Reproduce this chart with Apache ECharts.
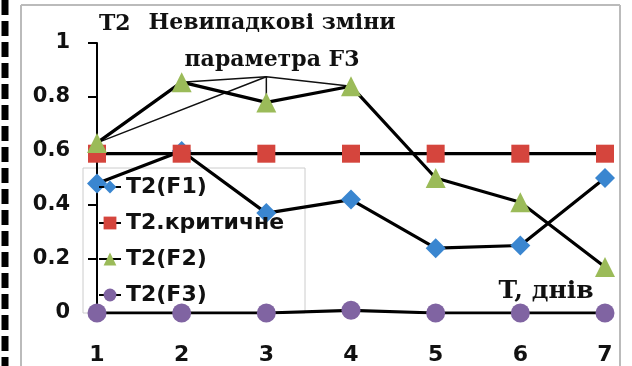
<!DOCTYPE html>
<html><head><meta charset="utf-8">
<script src="https://cdn.jsdelivr.net/npm/echarts@6/dist/echarts.min.js"></script>
<style>html,body{margin:0;padding:0;background:#fff}#c{width:632px;height:366px}</style>
</head><body><div id="c"></div>
<script>
const days = [1, 2, 3, 4, 5, 6, 7];
const yTicks = [0, 0.2, 0.4, 0.6, 0.8, 1];
const t2F1 = [0.48, 0.60, 0.37, 0.42, 0.24, 0.25, 0.50];
const t2Crit = [0.59, 0.59, 0.59, 0.59, 0.59, 0.59, 0.59];
const t2F2 = [0.63, 0.855, 0.78, 0.84, 0.50, 0.41, 0.17];
const t2F3 = [0, 0, 0, 0.01, 0, 0, 0];
// stray hand-drawn annotation strokes in the source picture
const strokeA = [[1, 0.63], [3, 0.875], [4, 0.84]];
const strokeB = [[2, 0.855], [3, 0.875], [3, 0.78]];
const names = ['T2(F1)', 'T2.критичне', 'T2(F2)', 'T2(F3)'];
const colors = ['#3a86d0', '#d5453d', '#9bbb59', '#8064a2'];
const symbols = ['diamond', 'rect', 'triangle', 'circle'];
const sizes = [20, 18, 20, 19];
const values = [t2F1, t2Crit, t2F2, t2F3];

const SANS = 'DejaVu Sans';
const SERIF = 'DejaVu Serif';

const chart = echarts.init(document.getElementById('c'), null, {renderer: 'canvas'});
const series = [];
[strokeA, strokeB].forEach((d, i) => series.push({
  name: 'stroke' + i, type: 'line', data: d, symbol: 'none', silent: true,
  lineStyle: {color: '#111', width: 1.5}, z: 1
}));
values.forEach((v, i) => series.push({
  name: names[i], type: 'line',
  data: v.map((y, k) => [days[k], y]),
  symbol: symbols[i], symbolSize: sizes[i],
  itemStyle: {color: colors[i]},
  lineStyle: {color: '#000', width: 3.2},
  z: 2 + i
}));

chart.setOption({
  animation: false,
  title: {
    text: 'Невипадкові зміни\nпараметра F3',
    left: 272, top: 5, padding: 0, textAlign: 'center',
    textStyle: {fontFamily: SERIF, fontWeight: 'bold', fontSize: 22, lineHeight: 37, color: '#111'}
  },
  grid: {left: 97, right: 27, top: 43, bottom: 53},
  legend: {
    data: names, orient: 'vertical', left: 98, top: 176, padding: 0,
    itemWidth: 22, itemHeight: 16, itemGap: 14,
    textStyle: {fontFamily: SANS, fontWeight: 'bold', fontSize: 22, lineHeight: 22, color: '#111'}
  },
  xAxis: {
    type: 'value', min: 1, max: 7, interval: 1,
    axisLine: {show: false}, axisTick: {show: false}, splitLine: {show: false},
    axisLabel: {margin: 31, fontFamily: SANS, fontWeight: 'bold', fontSize: 22, color: '#111',
      customValues: days}
  },
  yAxis: {
    type: 'value', min: 0, max: 1, interval: 0.2,
    name: 'T2', nameLocation: 'end', nameGap: 8,
    nameTextStyle: {fontFamily: SERIF, fontWeight: 'bold', fontSize: 22, color: '#111', align: 'left', padding: [0, 0, 0, 2]},
    axisLine: {show: true, lineStyle: {color: '#000', width: 2}},
    axisTick: {show: true, length: 9, lineStyle: {color: '#000', width: 2}},
    splitLine: {show: false},
    axisLabel: {margin: 27, fontFamily: SANS, fontWeight: 'bold', fontSize: 21, color: '#111',
      customValues: yTicks}
  },
  graphic: [
    {type: 'line', shape: {x1: 5, y1: 0, x2: 5, y2: 366}, style: {stroke: '#000', lineWidth: 7, lineDash: [15, 6]}},
    {type: 'line', shape: {x1: 21, y1: 5, x2: 620, y2: 5}, style: {stroke: '#bbb', lineWidth: 2}},
    {type: 'line', shape: {x1: 21, y1: 5, x2: 21, y2: 366}, style: {stroke: '#bbb', lineWidth: 2}},
    {type: 'line', shape: {x1: 620, y1: 5, x2: 620, y2: 366}, style: {stroke: '#bbb', lineWidth: 2}},
    {type: 'rect', shape: {x: 83, y: 168, width: 222, height: 145}, style: {fill: 'none', stroke: '#ccc', lineWidth: 1}, z: 0},
    {type: 'text', x: 546, y: 291, style: {text: 'T, днів', fontFamily: SERIF, fontWeight: 'bold', fontSize: 25, fill: '#111', textAlign: 'center', textVerticalAlign: 'middle'}}
  ],
  series: series
});
</script></body></html>
